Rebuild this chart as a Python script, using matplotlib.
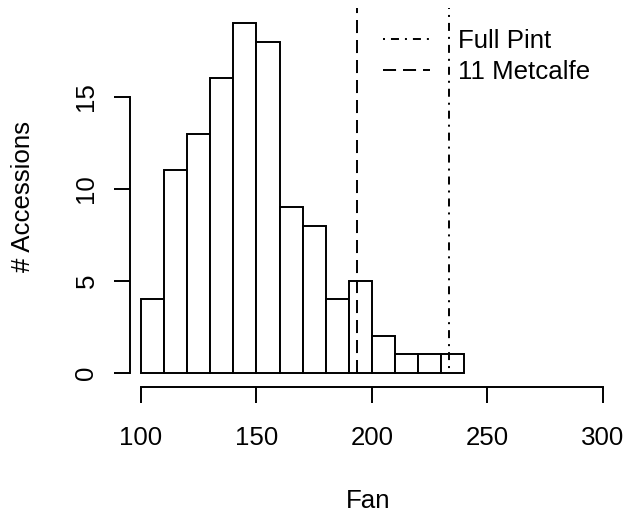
import matplotlib
matplotlib.use("Agg")
import matplotlib.pyplot as plt
from matplotlib.lines import Line2D

# ---- data ----
bin_lefts = [100, 110, 120, 130, 140, 150, 160, 170, 180, 190, 200, 210, 220, 230]
counts = [4, 11, 13, 16, 19, 18, 9, 8, 4, 5, 2, 1, 1, 1]
bin_width = 10
metcalfe_value = 193.7
fullpint_value = 233.6
x_ticks = [100, 150, 200, 250, 300]
y_ticks = [0, 5, 10, 15]
x_label = "Fan"
y_label = "# Accessions"
legend_labels = ["Full Pint", "11 Metcalfe"]

plt.rcParams['font.family'] = ['Liberation Sans', 'DejaVu Sans']
plt.rcParams['lines.scale_dashes'] = False

W, H = 627, 512
DPI = 100
fig = plt.figure(figsize=(W / DPI, H / DPI), dpi=DPI)
fs = 18.6
lw = 1.4

# axes placement in pixels
left_px, right_px, bottom_px, top_px = 130, 606, 386.7, 8
ax = fig.add_axes([left_px / W, (H - bottom_px) / H,
                   (right_px - left_px) / W, (bottom_px - top_px) / H])
xpu, ypu = 2.3085, 18.4
ax.set_xlim(100 - (141 - left_px) / xpu, 100 + (right_px - 141) / xpu)
ymin_lim = -(bottom_px - 372.7) / ypu
ymax_lim = (372.7 - top_px) / ypu
ax.set_ylim(ymin_lim, ymax_lim)

ax.bar(bin_lefts, counts, width=bin_width, align='edge', facecolor='white',
       edgecolor='black', linewidth=lw, clip_on=False)

dash_metcalfe = (5.76, (9.4, 5.0))
dash_fullpint = (10.8, (1.44, 4.3, 5.76, 4.3))
# vertical reference lines drawn from the top of the plot down to zero
ax.vlines([fullpint_value], ymax_lim, 0, colors='black', linewidth=lw,
          linestyles=[dash_fullpint])
ax.vlines([metcalfe_value], ymax_lim, 0, colors='black', linewidth=lw,
          linestyles=[dash_metcalfe])

for s in ['top', 'right']:
    ax.spines[s].set_visible(False)
ax.spines['left'].set_bounds(y_ticks[0], y_ticks[-1])
ax.spines['bottom'].set_bounds(x_ticks[0], x_ticks[-1])
for s in ['left', 'bottom']:
    ax.spines[s].set_linewidth(lw)

ax.set_xticks(x_ticks)
ax.set_yticks(y_ticks)
ax.set_xticklabels([str(v) for v in x_ticks])
ax.set_yticklabels([str(v) for v in y_ticks])
ax.tick_params(axis='both', length=11.5, width=lw, direction='out', labelsize=fs)
ax.tick_params(axis='x', pad=17)
ax.tick_params(axis='y', pad=11.2, labelrotation=90)
for lbl in ax.get_yticklabels():
    lbl.set_va('center')

ax.set_xlabel(x_label, fontsize=fs, va='baseline')
ax.xaxis.set_label_coords(368 / W, (H - 508) / H, transform=fig.transFigure)
ax.set_ylabel(y_label, fontsize=fs, va='baseline')
ax.yaxis.set_label_coords(30 / W, (H - 197) / H, transform=fig.transFigure)

handles = [Line2D([], [], color='black', linewidth=lw, linestyle=(0, dash_fullpint[1])),
           Line2D([], [], color='black', linewidth=lw, linestyle=(0, dash_metcalfe[1]))]
ax.legend(handles, legend_labels, loc='upper left',
          bbox_to_anchor=(383 / W, (H - 29) / H), bbox_transform=fig.transFigure,
          frameon=False, fontsize=fs, handlelength=1.82, handletextpad=1.09,
          labelspacing=0.28, borderpad=0, borderaxespad=0)

fig.savefig("out.png", dpi=DPI, facecolor='white')
